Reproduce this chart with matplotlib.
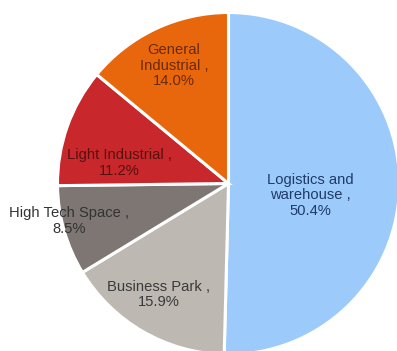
import matplotlib
matplotlib.use("Agg")
import matplotlib.pyplot as plt

# Share of floor space by property segment (%)
segments = ["Logistics and\nwarehouse", "Business Park", "High Tech Space",
            "Light Industrial", "General\nIndustrial"]
shares = [50.4, 15.9, 8.5, 11.2, 14.0]

colors = ["#9ccbfb", "#bdb8b1", "#7d7672", "#c8282b", "#e8670c"]
text_colors = ["#1f3a68", "#3a3a3a", "#333333", "#5a0f0f", "#6b2a08"]

# label centres in pie units (radius = 1)
label_xy = [(0.48, -0.07), (-0.41, -0.65), (-0.93, -0.22), (-0.64, 0.12), (-0.32, 0.69)]

W, H = 397, 351
fig = plt.figure(figsize=(W / 100, H / 100), dpi=100)
fig.patch.set_facecolor("white")

cx, cy, r = 228.5, 351 - 183.5, 171
ax = fig.add_axes([(cx - r) / W, (cy - r) / H, 2 * r / W, 2 * r / H])

ax.pie(shares, colors=colors, startangle=90, counterclock=False, radius=1,
       wedgeprops=dict(edgecolor="white", linewidth=2.2))
ax.set_xlim(-1, 1)
ax.set_ylim(-1, 1)
ax.axis("off")

for name, val, (x, y), tc in zip(segments, shares, label_xy, text_colors):
    ax.text(x, y, f"{name} ,\n{val:.1f}%", ha="center", va="center",
            fontsize=10.6, family="Liberation Sans", color=tc, linespacing=1.15)

fig.savefig("out.png", dpi=100)
